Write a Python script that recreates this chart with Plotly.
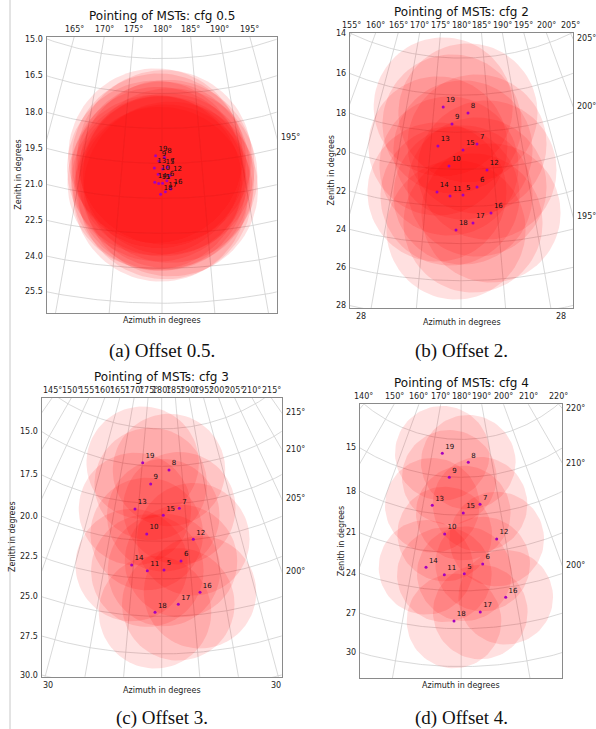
import numpy as np
import plotly.graph_objects as go

W, H = 596, 729

# ---------------- data ----------------
tel_ids = [19, 8, 9, 13, 7, 15, 10, 12, 14, 11, 5, 6, 16, 17, 18]

az_cfg05 = [179.18, 180.32, 179.60, 179.05, 180.66, 180.08, 179.53, 181.00, 179.13, 179.60, 180.07, 180.59, 181.04, 180.40, 179.84]
zen_cfg05 = [19.17, 19.24, 19.39, 19.70, 19.66, 19.74, 19.96, 20.02, 20.31, 20.36, 20.35, 20.24, 20.60, 20.72, 20.82]

az_cfg2 = [176.70, 181.27, 178.42, 176.20, 182.65, 180.33, 178.13, 184.00, 176.51, 178.42, 180.29, 182.36, 184.14, 181.62, 179.34]
zen_cfg2 = [16.66, 16.96, 17.56, 18.78, 18.65, 18.95, 19.83, 20.08, 21.26, 21.44, 21.38, 20.97, 22.41, 22.90, 23.27]

az_cfg3 = [175.09, 181.83, 177.40, 174.30, 183.77, 180.33, 177.07, 186.06, 174.70, 177.50, 180.40, 183.46, 186.23, 182.62, 178.97]
zen_cfg3 = [14.81, 15.25, 16.19, 17.93, 17.83, 18.26, 19.53, 19.97, 21.67, 21.97, 21.91, 21.35, 23.53, 24.22, 24.73]

az_cfg4 = [173.48, 182.33, 176.40, 172.42, 184.97, 180.53, 176.16, 188.05, 172.82, 176.63, 180.62, 184.45, 188.19, 183.37, 178.76]
zen_cfg4 = [13.18, 13.82, 15.03, 17.37, 17.20, 17.83, 19.54, 20.09, 22.31, 22.76, 22.64, 21.94, 24.76, 25.72, 26.39]

fov_radius = 3.75  # degrees

zen_ticks_05 = [13.5, 15.0, 16.5, 18.0, 19.5, 21.0, 22.5, 24.0, 25.5, 27.0]
az_ticks_05 = [150, 155, 160, 165, 170, 175, 180, 185, 190, 195, 200, 205, 210]
zen_ticks_2 = [10, 12, 14, 16, 18, 20, 22, 24, 26, 28, 30, 32]
az_ticks_2 = [145, 150, 155, 160, 165, 170, 175, 180, 185, 190, 195, 200, 205, 210, 215]
zen_ticks_3 = [10.0, 12.5, 15.0, 17.5, 20.0, 22.5, 25.0, 27.5, 30.0, 32.5]
az_ticks_3 = [130, 135, 140, 145, 150, 155, 160, 165, 170, 175, 180, 185, 190, 195, 200, 205, 210, 215, 220, 225, 230]
zen_ticks_4 = [9, 12, 15, 18, 21, 24, 27, 30, 33]
az_ticks_4 = [120, 130, 140, 150, 160, 170, 180, 190, 200, 210, 220, 230, 240]

titles = ["Pointing of MSTs: cfg 0.5", "Pointing of MSTs: cfg 2",
          "Pointing of MSTs: cfg 3", "Pointing of MSTs: cfg 4"]
captions = ["(a) Offset 0.5.", "(b) Offset 2.", "(c) Offset 3.", "(d) Offset 4."]

# ---------------- layout of panels (pixels) ----------------
panels = [
    dict(az=az_cfg05, zen=zen_cfg05, zt=zen_ticks_05, at=az_ticks_05, zfmt="{:.1f}",
         box=(46.7, 36.7, 276.7, 313.3), pole=(162.0, -290.9), k=23.3, cap_y=351),
    dict(az=az_cfg2, zen=zen_cfg2, zt=zen_ticks_2, at=az_ticks_2, zfmt="{:g}",
         box=(350.0, 33.0, 573.0, 308.0), pole=(461.0, -201.6), k=18.55, cap_y=351),
    dict(az=az_cfg3, zen=zen_cfg3, zt=zen_ticks_3, at=az_ticks_3, zfmt="{:.1f}",
         box=(41.7, 397.7, 281.7, 676.7), pole=(161.7, 241.4), k=15.0, cap_y=718),
    dict(az=az_cfg4, zen=zen_cfg4, zt=zen_ticks_4, at=az_ticks_4, zfmt="{:g}",
         box=(360.0, 404.3, 562.3, 678.3), pole=(461.2, 288.0), k=12.62, cap_y=718),
]


def proj(az, zen):
    phi = np.radians(np.asarray(az, dtype=float) - 180.0)
    zen = np.asarray(zen, dtype=float)
    return zen * np.sin(phi), zen * np.cos(phi)


fig = go.Figure()
annotations = []
tick_font = dict(family="DejaVu Sans", size=8, color="#222")

for i, p in enumerate(panels, start=1):
    xa = "x" if i == 1 else f"x{i}"
    ya = "y" if i == 1 else f"y{i}"
    L, T, R, B = p["box"]
    xc, yp = p["pole"]
    k = p["k"]
    uL, uR = (L - xc) / k, (R - xc) / k
    vT, vB = (T - yp) / k, (B - yp) / k
    tol = 1.5 / k

    # --- curved grid
    gx, gy = [], []
    phis = np.linspace(-75, 75, 400)
    for z in p["zt"]:
        u, v = proj(180 + phis, np.full_like(phis, z))
        gx += list(u) + [None]
        gy += list(v) + [None]
    zz = np.linspace(0, 45, 50)
    for a in p["at"]:
        u, v = proj(np.full_like(zz, a), zz)
        gx += list(u) + [None]
        gy += list(v) + [None]
    fig.add_trace(go.Scatter(x=gx, y=gy, mode="lines", xaxis=xa, yaxis=ya,
                             line=dict(color="#cfcfcf", width=0.8),
                             hoverinfo="skip", showlegend=False))

    # --- field-of-view circles
    t = np.linspace(0, 2 * np.pi, 90)
    cu, cv = proj(p["az"], p["zen"])
    for u0, v0 in zip(cu, cv):
        fig.add_trace(go.Scatter(x=u0 + fov_radius * np.cos(t), y=v0 + fov_radius * np.sin(t),
                                 mode="lines", fill="toself", fillcolor="rgba(255,0,0,0.12)",
                                 line=dict(width=0), xaxis=xa, yaxis=ya,
                                 hoverinfo="skip", showlegend=False))

    # --- telescope pointings
    fig.add_trace(go.Scatter(x=cu, y=cv, mode="markers+text", xaxis=xa, yaxis=ya,
                             text=[str(n) for n in tel_ids], textposition="top right",
                             textfont=dict(family="DejaVu Sans", size=7, color="#111"),
                             marker=dict(color="rgb(165,0,190)", size=3),
                             hoverinfo="skip", showlegend=False))

    # --- edge tick labels
    for a in p["at"]:
        phi = np.radians(a - 180)
        ut = vT * np.tan(phi)
        if uL - tol <= ut <= uR + tol:
            annotations.append(dict(x=ut, y=vT, xref=xa, yref=ya, text=f"{a}°", showarrow=False,
                                    xanchor="center", yanchor="bottom", yshift=1, font=tick_font))
        if phi > 0:
            vr = uR / np.tan(phi)
            if vT - tol <= vr <= vB + tol:
                annotations.append(dict(x=uR, y=vr, xref=xa, yref=ya, text=f"{a}°", showarrow=False,
                                        xanchor="left", yanchor="middle", xshift=2, font=tick_font))
    for z in p["zt"]:
        if z > abs(uL):
            vl = np.sqrt(z ** 2 - uL ** 2)
            if vT - tol <= vl <= vB + tol:
                annotations.append(dict(x=uL, y=vl, xref=xa, yref=ya, text=p["zfmt"].format(z),
                                        showarrow=False, xanchor="right", yanchor="middle",
                                        xshift=-2, font=tick_font))
        if z > vB:
            ub = np.sqrt(z ** 2 - vB ** 2)
            for s in (-1, 1):
                if uL - tol <= s * ub <= uR + tol:
                    annotations.append(dict(x=s * ub, y=vB, xref=xa, yref=ya, text=f"{z:g}",
                                            showarrow=False, xanchor="center", yanchor="top",
                                            yshift=-2, font=tick_font))

    has_bottom = any(z > vB and np.sqrt(z ** 2 - vB ** 2) <= uR + tol for z in p["zt"])
    cx = (L + R) / 2
    # title
    annotations.append(dict(x=cx / W, y=1 - (T - 21) / H, xref="paper", yref="paper",
                            text=titles[i - 1], showarrow=False, xanchor="center", yanchor="middle",
                            font=dict(family="DejaVu Sans", size=12, color="#111")))
    # x label
    annotations.append(dict(x=cx / W, y=1 - (B + (14 if has_bottom else 7)) / H, xref="paper",
                            yref="paper", text="Azimuth in degrees", showarrow=False,
                            xanchor="center", yanchor="middle",
                            font=dict(family="DejaVu Sans", size=8, color="#222")))
    # y label
    off = 29 if "." in p["zfmt"] else 19
    annotations.append(dict(x=(L - off) / W, y=1 - ((T + B) / 2) / H, xref="paper", yref="paper",
                            text="Zenith in degrees", showarrow=False, textangle=-90,
                            xanchor="center", yanchor="middle",
                            font=dict(family="DejaVu Sans", size=8, color="#222")))
    # caption
    annotations.append(dict(x=cx / W, y=1 - p["cap_y"] / H, xref="paper", yref="paper",
                            text=captions[i - 1], showarrow=False, xanchor="center",
                            yanchor="middle",
                            font=dict(family="Liberation Serif", size=19, color="#111")))

    axcommon = dict(showgrid=False, zeroline=False, showticklabels=False, ticks="",
                    showline=True, mirror=True, linecolor="#8a8a8a", linewidth=1, fixedrange=True)
    fig.layout[("xaxis" if i == 1 else f"xaxis{i}")] = dict(
        domain=[L / W, R / W], range=[uL, uR], anchor=ya, **axcommon)
    fig.layout[("yaxis" if i == 1 else f"yaxis{i}")] = dict(
        domain=[1 - B / H, 1 - T / H], range=[vB, vT], anchor=xa, **axcommon)

fig.update_layout(
    width=W, height=H, margin=dict(l=0, r=0, t=0, b=0),
    paper_bgcolor="white", plot_bgcolor="white",
    annotations=annotations, showlegend=False,
    shapes=[dict(type="line", xref="paper", yref="paper", x0=10 / W, x1=10 / W, y0=0, y1=1,
                 line=dict(color="#c8c8c8", width=1))],
)

fig.write_html("out.html")
